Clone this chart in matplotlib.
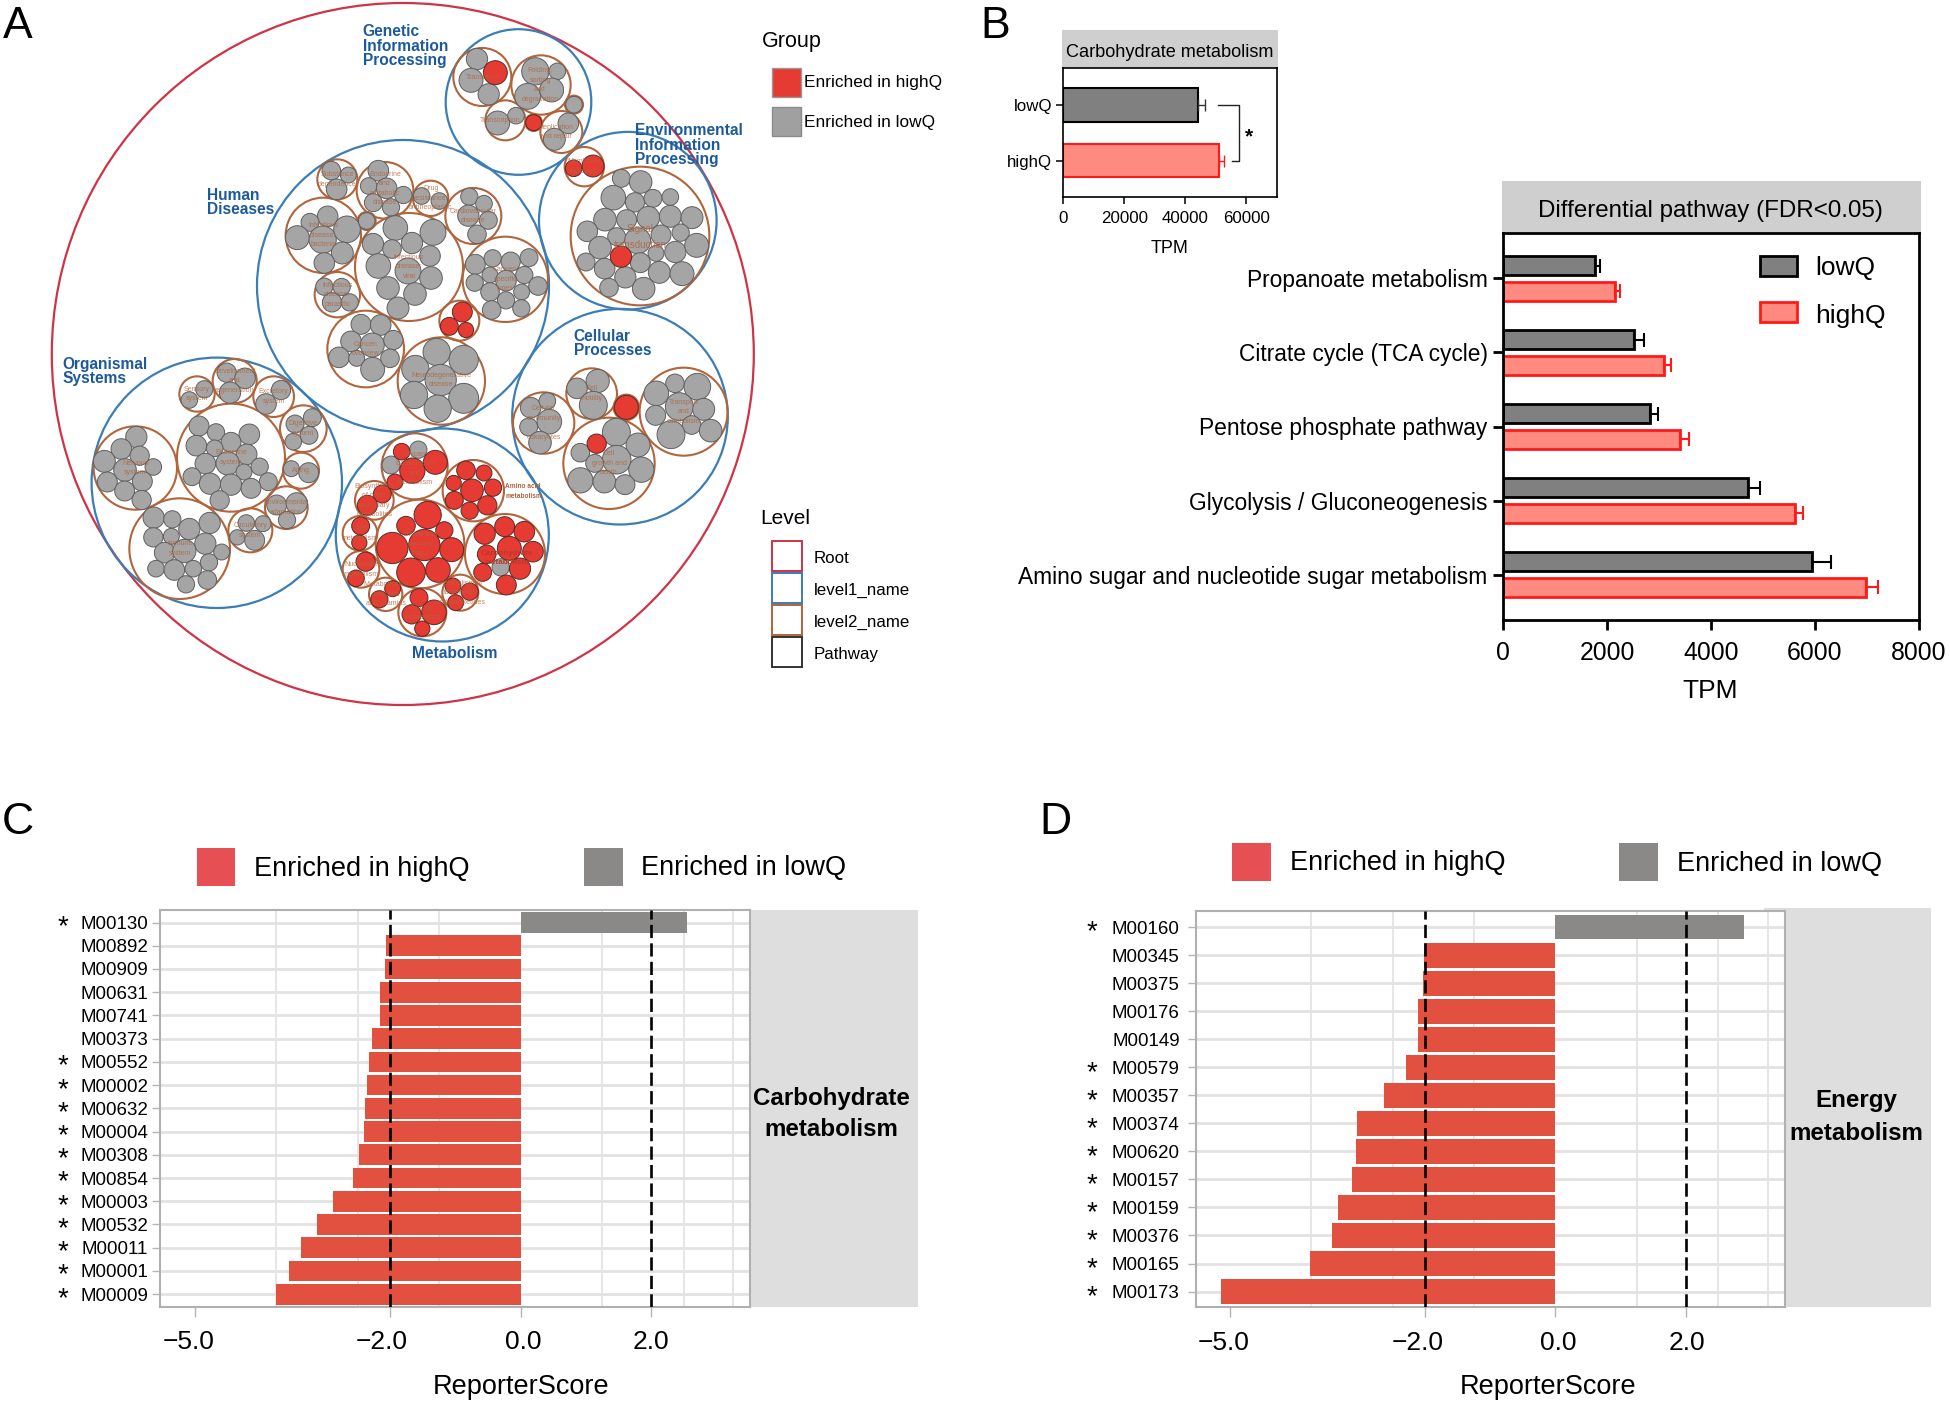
import numpy as np
import matplotlib
matplotlib.use("Agg")
import matplotlib.pyplot as plt
from matplotlib.patches import Circle, Rectangle
from matplotlib.transforms import ScaledTranslation

plt.rcParams['font.family'] = ['Liberation Sans', 'DejaVu Sans']

W, H = 1950, 1402

# ---- panel B data ----
carb_groups = ['lowQ', 'highQ']
carb_tpm = [44260, 51080]
carb_err = [2280, 1660]

pathways = ['Amino sugar and nucleotide sugar metabolism', 'Glycolysis / Gluconeogenesis',
            'Pentose phosphate pathway', 'Citrate cycle (TCA cycle)', 'Propanoate metabolism']
low_tpm = [5947, 4720, 2828, 2512, 1772]
low_err = [352, 231, 157, 206, 85]
high_tpm = [6978, 5607, 3410, 3095, 2160]
high_err = [242, 170, 158, 133, 85]

# ---- panel C data ----
c_modules = ['M00130', 'M00892', 'M00909', 'M00631', 'M00741', 'M00373', 'M00552', 'M00002', 'M00632',
             'M00004', 'M00308', 'M00854', 'M00003', 'M00532', 'M00011', 'M00001', 'M00009']
c_scores = [2.55, -2.06, -2.08, -2.16, -2.16, -2.28, -2.33, -2.35, -2.39, -2.40, -2.48, -2.57, -2.88, -3.12,
            -3.37, -3.55, -3.75]
c_star = [1, 0, 0, 0, 0, 0, 1, 1, 1, 1, 1, 1, 1, 1, 1, 1, 1]

# ---- panel D data ----
d_modules = ['M00160', 'M00345', 'M00375', 'M00176', 'M00149', 'M00579', 'M00357', 'M00374', 'M00620',
             'M00157', 'M00159', 'M00376', 'M00165', 'M00173']
d_scores = [2.905, -2.02, -2.04, -2.11, -2.11, -2.29, -2.64, -3.05, -3.07, -3.12, -3.34, -3.43, -3.77, -5.14]
d_star = [1, 0, 0, 0, 0, 1, 1, 1, 1, 1, 1, 1, 1, 1]

# ---- panel A data: circles as (x, y, r), in thirds of a pixel ----
# upper right part of the pack, origin (400, 0)
ur_level2 = [(247, 231, 87), (423, 255, 89), (522, 314, 27), (316, 361, 60), (401, 368, 25), (484, 396, 63),
             (553, 500, 59), (720, 708, 208), (92, 595, 53), (220, 648, 84), (316, 838, 128), (178, 962, 60)]
ur_low = [(231, 177, 31), (213, 241, 35), (266, 283, 31), (406, 214, 40), (472, 214, 24), (383, 289, 38),
          (455, 270, 35), (522, 314, 24), (293, 369, 35), (348, 347, 24), (505, 370, 30), (463, 418, 32),
          (664, 535, 26), (722, 546, 33), (640, 593, 36), (705, 607, 28), (759, 595, 26), (811, 591, 24),
          (615, 659, 33), (680, 659, 29), (745, 653, 33), (811, 649, 32), (876, 653, 32), (562, 694, 30),
          (650, 710, 26), (713, 722, 38), (783, 705, 29), (842, 698, 25), (600, 743, 33), (768, 760, 23),
          (826, 756, 31), (890, 736, 35), (558, 786, 26), (614, 806, 30), (721, 788, 29), (676, 832, 31),
          (778, 817, 32), (846, 821, 35), (627, 863, 27), (731, 866, 33),
          (65, 588, 24), (118, 603, 24), (208, 590, 25), (252, 611, 24), (205, 647, 31), (265, 661, 26),
          (231, 703, 27), (226, 793, 29), (278, 775, 25), (332, 785, 28), (387, 773, 26), (270, 825, 23),
          (373, 825, 25), (224, 848, 25), (318, 842, 30), (270, 876, 27), (365, 876, 23), (318, 901, 25),
          (414, 858, 27), (275, 930, 27), (364, 925, 25)]
ur_high = [(286, 218, 35), (401, 368, 23), (521, 505, 24), (579, 498, 32), (663, 770, 31),
           (187, 936, 29), (148, 979, 26), (198, 990, 22)]

# upper left part, origin (50, 0)
ul_level2 = [(862, 538, 60), (1005, 571, 85), (820, 706, 113), (950, 663, 27), (862, 884, 68), (1077, 801, 162),
             (1174, 1143, 131), (947, 1047, 115)]
ul_low = [(844, 512, 27), (895, 525, 23), (860, 568, 30), (985, 512, 30), (956, 558, 24), (1010, 565, 30),
          (970, 608, 26), (1023, 622, 25), (1060, 585, 25), (833, 649, 30), (780, 667, 26), (742, 713, 35),
          (818, 719, 40), (891, 688, 39), (877, 759, 32), (823, 789, 30), (950, 663, 24), (823, 860, 25),
          (875, 861, 25), (846, 907, 28), (899, 907, 25),
          (1036, 684, 36), (1149, 697, 38), (969, 732, 31), (1026, 747, 27), (1086, 729, 31), (1140, 768, 30),
          (985, 798, 36), (1074, 813, 38), (1143, 834, 33), (1014, 864, 33), (1095, 882, 33), (1044, 924, 32),
          (1160, 1056, 40), (1241, 1080, 43), (1096, 1107, 40), (1172, 1140, 46), (1092, 1185, 40),
          (1241, 1195, 44), (1163, 1226, 40),
          (933, 973, 29), (992, 975, 30), (903, 1024, 30), (967, 1035, 35), (1030, 1020, 28), (867, 1072, 30),
          (920, 1075, 23), (968, 1108, 35), (1020, 1075, 27)]

# lower left part, origin (50, 350)
ll_level2 = [(441, 132, 53), (554, 93, 66), (671, 140, 61), (760, 236, 70), (753, 362, 54), (709, 473, 64),
             (601, 541, 66), (543, 323, 162), (256, 354, 125), (389, 596, 151)]
ll_low = [(463, 118, 25), (418, 150, 24), (530, 68, 28), (585, 85, 30), (540, 128, 31), (693, 120, 28),
          (648, 162, 30), (735, 222, 26), (787, 203, 26), (777, 256, 26), (730, 275, 24), (724, 356, 23),
          (776, 368, 29), (680, 465, 29), (740, 460, 31), (711, 510, 25), (589, 519, 24), (639, 521, 23),
          (562, 562, 22), (614, 571, 29),
          (447, 228, 29), (498, 247, 25), (598, 253, 30), (439, 287, 30), (543, 277, 29), (494, 295, 24),
          (590, 313, 30), (466, 341, 30), (533, 340, 34), (629, 350, 25), (582, 366, 23), (426, 380, 26),
          (480, 401, 31), (543, 404, 31), (655, 395, 26), (603, 415, 29), (509, 451, 28),
          (259, 261, 31), (214, 297, 30), (163, 334, 32), (269, 317, 28), (310, 351, 24), (225, 360, 33),
          (172, 396, 29), (277, 394, 29), (224, 423, 29), (275, 450, 28),
          (311, 503, 31), (367, 508, 25), (479, 519, 31), (310, 562, 28), (364, 559, 23), (418, 537, 31),
          (466, 581, 31), (344, 608, 30), (403, 603, 34), (515, 606, 23), (318, 656, 24), (373, 660, 30),
          (430, 656, 24), (477, 637, 25), (472, 690, 27), (408, 703, 25)]

# lower right part, origin (400, 350)
lr_level2 = [(431, 219, 92), (575, 131, 76), (679, 172, 38), (851, 185, 132), (627, 340, 137)]
lr_low = [(392, 173, 30), (442, 153, 24), (448, 215, 36), (386, 231, 26), (420, 278, 33), (593, 93, 34),
          (531, 115, 30), (580, 166, 41), (825, 100, 27), (892, 110, 39), (769, 130, 36), (838, 170, 41),
          (911, 178, 32), (767, 196, 29), (875, 225, 27), (813, 254, 41), (932, 242, 33), (649, 247, 41),
          (541, 308, 27), (714, 285, 35), (650, 329, 42), (584, 340, 26), (724, 359, 37), (541, 391, 37),
          (613, 395, 33), (675, 404, 29)]
lr_high = [(679, 172, 35), (590, 281, 28)]

# metabolism, origin (330, 425)
me_level2 = [(254, 124, 99), (430, 197, 92), (133, 226, 58), (270, 357, 133), (525, 387, 120), (90, 325, 52),
             (93, 433, 55), (167, 508, 50), (391, 503, 54), (277, 562, 72)]
me_low = [(265, 74, 25), (183, 120, 26), (512, 427, 25)]
me_high = [(215, 80, 24), (247, 137, 37), (316, 112, 35), (195, 171, 23),
           (408, 136, 27), (462, 144, 23), (371, 174, 22), (426, 196, 33), (489, 188, 25), (373, 226, 26),
           (472, 241, 28), (419, 257, 25), (157, 207, 26), (112, 241, 29),
           (293, 270, 40), (228, 302, 27), (343, 316, 25), (187, 369, 46), (283, 360, 46), (365, 374, 35),
           (243, 442, 42), (324, 435, 36),
           (464, 326, 31), (524, 305, 29), (583, 320, 30), (538, 370, 35), (470, 388, 27), (609, 380, 30),
           (458, 442, 26), (570, 431, 31), (529, 480, 29),
           (92, 303, 26), (88, 353, 22), (107, 410, 28), (78, 460, 24), (188, 491, 23), (148, 523, 25),
           (369, 483, 23), (419, 500, 25), (377, 533, 23), (267, 518, 26), (245, 568, 28), (312, 562, 36),
           (277, 611, 22)]

level1_xyr = [(518.5, 102, 72.8), (627.8, 220.7, 88.8), (403, 286, 146), (620, 416.7, 107.8),
              (216.8, 482.8, 125.2), (442.3, 535, 106.5)]
root_xyr = (402.8, 354, 351)

ur_names = [('Translation', 250, 232), ('Folding,\nsorting\nand\ndegradation', 420, 255), ('Transcription', 302, 361),
            ('Replication\nand repair', 468, 396), ('Membrane\ntransport', 553, 500),
            ('Drug\nresistance:\nantineoplastic', 92, 595), ('Cardiovascular\ndisease', 220, 648),
            ('Cancer:\nspecific\ntypes', 316, 838)]
ul_names = [('Substance\ndependence', 862, 538), ('Endocrine\nand\nmetabolic\ndisease', 1005, 565),
            ('Infectious\ndisease:\nbacterial', 820, 706), ('Infectious\ndisease:\nparasitic', 862, 884),
            ('Infectious\ndisease:\nviral', 1077, 801), ('Cancer:\noverview', 947, 1047),
            ('Neurodegenerative\ndisease', 1174, 1140)]
ll_names = [('Sensory\nsystem', 441, 132), ('Development\nand\nregeneration', 554, 93), ('Excretory\nsystem', 671, 140),
            ('Digestive\nsystem', 760, 236), ('Aging', 753, 362), ('Environmental\nadaptation', 709, 473),
            ('Circulatory\nsystem', 601, 541), ('Endocrine\nsystem', 543, 323), ('Nervous\nsystem', 256, 354),
            ('Immune\nsystem', 389, 596)]
lr_names = [('Cellular\ncommunity\n-\neukaryotes', 431, 219), ('Cell\nmotility', 575, 131),
            ('Cell\ngrowth and\ndeath', 627, 340), ('Transport\nand\ncatabolism', 851, 185)]
me_names = [('Glycan\nbiosynthesis\nand\nmetabolism', 254, 130), ('Global and\noverview\nmaps', 270, 357),
            ('Biosynthesis\nof other\nsecondary\nmetabolites', 133, 226), ('Lipid\nmetabolism', 90, 325),
            ('Nucleotide\nmetabolism', 93, 433), ('Metabolism of\ncofactors\nand vitamins', 167, 508),
            ('Metabolism of\nterpenoids\nand polyketides', 391, 503), ('Energy\nmetabolism', 277, 562)]

BLUE = '#3b7db5'
BROWN = '#b0653c'
ROOT = '#cf3346'
TITLE_BLUE = '#1c5a9c'
GREY_LEAF = '#a5a5a5'
RED_LEAF = '#e63b33'


def px_axes(left, top, right, bottom):
    return fig.add_axes([left / W, 1 - bottom / H, (right - left) / W, (bottom - top) / H])


fig = plt.figure(figsize=(19.5, 14.02), dpi=100)

# back layer for the grey header/strip boxes, front layer for everything in pixel coordinates
back = px_axes(0, 0, W, H)
back.set_xlim(0, W)
back.set_ylim(H, 0)
back.axis('off')
back.set_zorder(0)

ov = px_axes(0, 0, W, H)
ov.set_xlim(0, W)
ov.set_ylim(H, 0)
ov.axis('off')
ov.patch.set_alpha(0)
ov.set_zorder(5)


def label(x, y, txt, **kw):
    # text came out a bit high against the reference
    kw.setdefault('ha', 'center')
    kw.setdefault('va', 'center')
    ov.text(x, y + 2.5, txt, **kw)


def ring(x, y, r, color, lw, z):
    ov.add_patch(Circle((x, y), r, fill=False, edgecolor=color, linewidth=lw, zorder=z))


def pack(origin, level2, low=(), high=(), names=()):
    ox, oy = origin
    for x, y, r in level2:
        ring(ox + x / 3, oy + y / 3, r / 3, BROWN, 1.5, 3)
    for x, y, r in low:
        ov.add_patch(Circle((ox + x / 3, oy + y / 3), r / 3 + 0.3, facecolor=GREY_LEAF, edgecolor='#5f5f5f',
                            linewidth=0.7, zorder=4))
    for x, y, r in high:
        ov.add_patch(Circle((ox + x / 3, oy + y / 3), r / 3 + 0.3, facecolor=RED_LEAF, edgecolor='#5a2a26',
                            linewidth=0.7, zorder=4))
    for name, x, y in names:
        ov.text(ox + x / 3, oy + y / 3, name, color=BROWN, fontsize=5, ha='center', va='center',
                alpha=0.8, linespacing=1.5, zorder=6)


# ---- panel A ----
ring(*root_xyr, ROOT, 1.6, 1)
for c in level1_xyr:
    ring(*c, BLUE, 1.6, 2)
pack((400, 0), ur_level2, ur_low, ur_high, ur_names)
pack((50, 0), ul_level2, ul_low, (), ul_names)
pack((50, 350), ll_level2, ll_low, (), ll_names)
pack((400, 350), lr_level2, lr_low, lr_high, lr_names)
pack((330, 425), me_level2, me_low, me_high, me_names)

ov.text(640, 237, 'Signal\ntransduction', color=BROWN, fontsize=7, ha='center', va='center', alpha=0.85,
        linespacing=1.7, zorder=6)
ov.text(507, 558, 'Carbohydrate\nmetabolism', color='#b83a2a', fontsize=5.8, fontweight='bold', ha='center',
        va='center', linespacing=1.5, zorder=6)
ov.text(505, 491, 'Amino acid\nmetabolism', color=BROWN, fontsize=4.7, fontweight='bold', ha='left', va='center',
        linespacing=1.6, zorder=6)

blue_names = [('Genetic\nInformation\nProcessing', 362.7, 45), ('Environmental\nInformation\nProcessing', 635.3, 144),
              ('Human\nDiseases', 206.7, 201), ('Cellular\nProcesses', 573.7, 342), ('Organismal\nSystems', 62.7, 370),
              ('Metabolism', 412.3, 652)]
for name, x, y in blue_names:
    ov.text(x, y + 1.3, name, color=TITLE_BLUE, fontsize=11.2, fontweight='bold', ha='left', va='center',
            linespacing=0.95, zorder=7)

# group / level legends
label(761.7, 39, 'Group', fontsize=15.5, ha='left')
ov.add_patch(Rectangle((772, 67.5), 29, 29, facecolor=RED_LEAF, edgecolor='#9a9a9a', linewidth=1))
ov.add_patch(Rectangle((772, 107), 29, 29, facecolor='#a0a0a0', edgecolor='#8a8a8a', linewidth=1))
label(804, 80, 'Enriched in highQ', fontsize=12.45, ha='left')
label(804, 120, 'Enriched in lowQ', fontsize=12.45, ha='left')

label(760, 515.6, 'Level', fontsize=15, ha='left')
level_names = ['Root', 'level1_name', 'level2_name', 'Pathway']
level_colors = [ROOT, BLUE, BROWN, '#333333']
level_tops = [541, 573, 605, 637]
level_text_y = [556, 587.5, 619.6, 652]
for name, col, top, ty in zip(level_names, level_colors, level_tops, level_text_y):
    ov.add_patch(Rectangle((772, top), 30, 29.5, fill=False, edgecolor=col, linewidth=1.4))
    label(813.7, ty, name, fontsize=12.2, ha='left')

# panel letters
for letter, x, y in [('A', 3, 24), ('B', 980, 24), ('C', 2, 820), ('D', 1039, 820)]:
    label(x, y, letter, fontsize=32, ha='left')

# ---- panel B, small bars ----
back.add_patch(Rectangle((1062, 30), 215.5, 38, facecolor='#cfcfcf', edgecolor='none'))
label(1169.6, 49.6, 'Carbohydrate metabolism', fontsize=13.1)

ax = px_axes(1063, 68.4, 1277, 197.4)
ax.set_zorder(1)
ax.barh([1, 0], carb_tpm, height=0.6, color=['#808080', '#ff8a80'], edgecolor=['black', '#ff1a1a'], linewidth=1.5)
ax.errorbar(carb_tpm[0], 1, xerr=[[0], [carb_err[0]]], color='#333333', capsize=4.5, elinewidth=1, capthick=1)
ax.errorbar(carb_tpm[1], 0, xerr=[[0], [carb_err[1]]], color='#ff1a1a', capsize=4.5, elinewidth=1, capthick=1)
ax.plot([50670, 57500, 57500, 55220], [1, 1, 0, 0], color='#222222', linewidth=1)
ax.text(60800, 0.43, '*', fontsize=15, ha='center', va='center', fontweight='bold')
ax.set_xlim(0, 70000)
ax.set_ylim(-0.66, 1.66)
ax.set_xticks([0, 20000, 40000, 60000])
ax.set_yticks([1, 0])
ax.set_yticklabels(carb_groups)
ax.tick_params(labelsize=12.2, length=5, width=1.1, pad=5)
ax.tick_params(axis='y', pad=3)
for s in ax.spines.values():
    s.set_linewidth(1.2)
label(1169.6, 245.6, 'TPM', fontsize=13)

# ---- panel B, pathway bars ----
back.add_patch(Rectangle((1501.6, 181), 419.4, 52, facecolor='#cfcfcf', edgecolor='none'))
label(1710.6, 208, 'Differential pathway (FDR<0.05)', fontsize=17.4)

ax = px_axes(1503, 233, 1919, 620)
ax.set_zorder(1)
y = np.arange(len(pathways))
ax.barh(y + 0.174, low_tpm, height=0.255, color='#808080', edgecolor='black', linewidth=2)
ax.barh(y - 0.174, high_tpm, height=0.255, color='#ff8a80', edgecolor='#ff1a1a', linewidth=2)
ax.errorbar(low_tpm, y + 0.174, xerr=[np.zeros(5), low_err], fmt='none', ecolor='black', capsize=5,
            elinewidth=1.5, capthick=1.5)
ax.errorbar(high_tpm, y - 0.174, xerr=[np.zeros(5), high_err], fmt='none', ecolor='#ff1a1a', capsize=5,
            elinewidth=1.5, capthick=1.5)
ax.set_xlim(0, 8000)
ax.set_ylim(-0.614, 4.614)
ax.set_xticks([0, 2000, 4000, 6000, 8000])
ax.set_yticks(y)
ax.set_yticklabels(pathways)
ax.tick_params(axis='both', labelsize=17.8, length=7, width=2)
ax.tick_params(axis='y', labelsize=16.4, pad=4)
ax.tick_params(axis='x', pad=8)
for s in ax.spines.values():
    s.set_linewidth(2)
label(1710, 689, 'TPM', fontsize=19)

ov.add_patch(Rectangle((1760, 256), 37, 20, facecolor='#808080', edgecolor='black', linewidth=2))
ov.add_patch(Rectangle((1760, 302), 37, 20, facecolor='#ff8a80', edgecolor='#ff1a1a', linewidth=2))
label(1815, 266, 'lowQ', fontsize=19, ha='left')
label(1815, 313, 'highQ', fontsize=19, ha='left')


# ---- panels C and D ----
def score_panel(box, strip, modules, scores, stars, star_frac, top_pad, bottom_pad, label_dx, ypad):
    left, top, right, bottom = box
    back.add_patch(Rectangle((strip[0], strip[1]), strip[2] - strip[0], strip[3] - strip[1],
                             facecolor='#dedede', edgecolor='none'))
    a = px_axes(left, top, right, bottom)
    a.set_zorder(1)
    a.set_axisbelow(True)
    n = len(modules)
    rows = np.arange(n)
    colors = ['#8b8888' if v > 0 else '#e2503f' for v in scores]
    a.barh(rows, scores, height=0.89, color=colors, zorder=2)
    a.axvline(-2, color='black', linestyle=(0, (5, 2)), linewidth=1.9, zorder=3)
    a.axvline(2, color='black', linestyle=(0, (5, 2)), linewidth=1.9, zorder=3)
    a.set_xlim(-5.53, 3.52)
    a.set_ylim(n - 1 + bottom_pad, -top_pad)
    a.set_xticks([-5, -2, 0, 2])
    a.set_xticklabels(['\u22125.0', '\u22122.0', '0.0', '2.0'])
    a.set_xticks([-5, -3.75, -2.5, -1.25, 0, 1.25, 2.5, 3.26], minor=True)
    a.set_yticks(rows)
    a.set_yticklabels(modules)
    a.grid(axis='x', which='minor', color='#e2e2e2', linewidth=1.2)
    a.grid(axis='y', which='major', color='#e2e2e2', linewidth=2)
    a.tick_params(axis='x', which='minor', length=0)
    a.tick_params(axis='x', labelsize=19, length=7, width=1, color='#b5b5b5', pad=10)
    a.tick_params(axis='y', labelsize=13.5, length=6, width=1, color='#b5b5b5', pad=ypad)
    for s in a.spines.values():
        s.set_color('#b0b0b0')
        s.set_linewidth(1.5)
    for lab, dx in zip(a.get_xticklabels(), label_dx):
        lab.set_transform(lab.get_transform() + ScaledTranslation(dx / 100, 0, fig.dpi_scale_trans))
    for i, flag in enumerate(stars):
        if flag:
            a.text(star_frac, i + 0.2, '*', fontsize=20, ha='center', va='center',
                   transform=a.get_yaxis_transform(), clip_on=False)
    return a


score_panel((160, 909.5, 750, 1306.5), (750, 909.5, 917.6, 1306.5), c_modules, c_scores, c_star,
            -0.165, 0.56, 0.53, [-6, -8, 3, 0], 2.5)
score_panel((1195.6, 910.6, 1784.5, 1307), (1764, 908, 1931, 1307), d_modules, d_scores, d_star,
            -0.176, 0.585, 0.55, [-6, -8, 3, 1], 5.5)

label(831, 1095.6, 'Carbohydrate', fontsize=17.4, fontweight='bold')
label(831, 1127, 'metabolism', fontsize=17.4, fontweight='bold')
label(1856, 1097.6, 'Energy', fontsize=17.4, fontweight='bold')
label(1856, 1131, 'metabolism', fontsize=17.4, fontweight='bold')
label(521, 1385, 'ReporterScore', fontsize=19.5)
label(1548.5, 1384, 'ReporterScore', fontsize=19.5)

ov.add_patch(Rectangle((196.5, 848), 38.5, 38, facecolor='#e65055', edgecolor='none'))
ov.add_patch(Rectangle((584, 848), 38.5, 38, facecolor='#8b8888', edgecolor='none'))
label(254.5, 866, 'Enriched in highQ', fontsize=19.5, ha='left')
label(641, 866, 'Enriched in lowQ', fontsize=19.5, ha='left')

ov.add_patch(Rectangle((1232, 843), 38.5, 38, facecolor='#e65055', edgecolor='none'))
ov.add_patch(Rectangle((1619, 843), 38.5, 38, facecolor='#8b8888', edgecolor='none'))
label(1290, 861, 'Enriched in highQ', fontsize=19.5, ha='left')
label(1677, 861, 'Enriched in lowQ', fontsize=19.5, ha='left')

fig.savefig('out.png', dpi=100)
